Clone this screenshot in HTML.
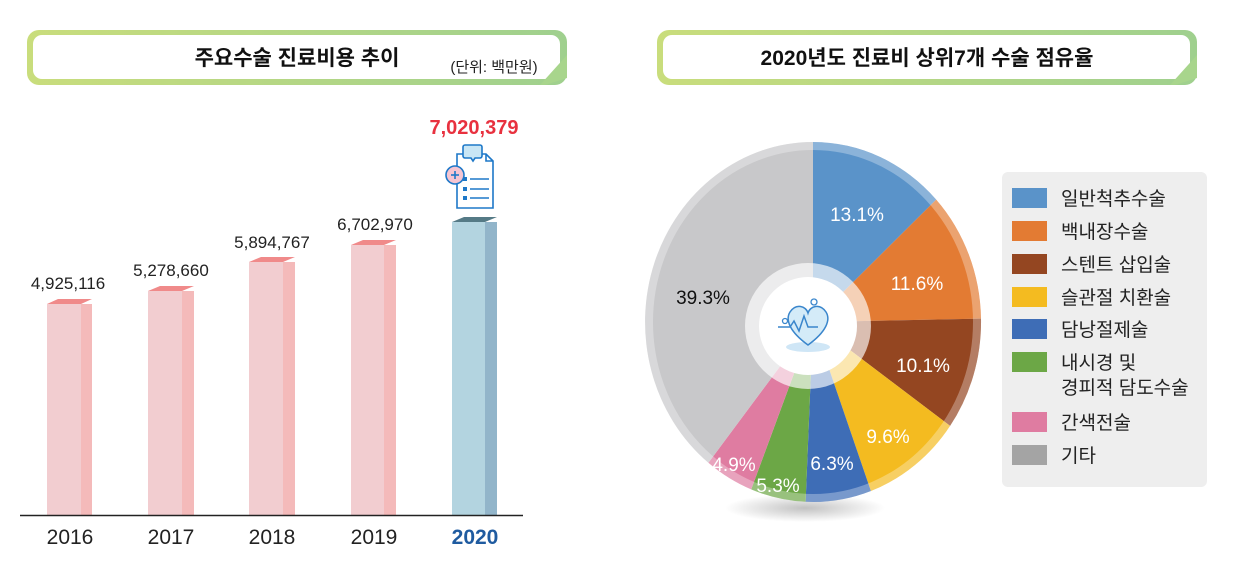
<!DOCTYPE html>
<html><head><meta charset="utf-8"><style>
body{margin:0;background:#fff;width:1246px;height:571px;overflow:hidden;font-family:"Liberation Sans","Noto Sans CJK KR",sans-serif}
</style></head><body>
<svg width="1246" height="571" viewBox="0 0 1246 571" xmlns="http://www.w3.org/2000/svg" font-family="Liberation Sans, Noto Sans CJK KR, sans-serif">
<defs>
<linearGradient id="g1" x1="0" x2="1" y1="0" y2="0"><stop offset="0" stop-color="#c9dd7c"/><stop offset="1" stop-color="#9fd08e"/></linearGradient>
<radialGradient id="sh" cx="0.5" cy="0.5" r="0.5"><stop offset="0" stop-color="#999" stop-opacity="0.6"/><stop offset="1" stop-color="#999" stop-opacity="0"/></radialGradient>
</defs>
<rect x="27" y="30" width="540" height="55" rx="12" fill="url(#g1)"/>
<rect x="33" y="35" width="527" height="44" rx="9" fill="#fff"/>
<polygon points="567,55 567,78 545,85 540,85" fill="#a8d58c"/>
<text x="297" y="65" text-anchor="middle" font-size="21" font-weight="bold" fill="#111">주요수술 진료비용 추이</text>
<text x="494" y="72" text-anchor="middle" font-size="15" fill="#222">(단위: 백만원)</text>
<rect x="657" y="30" width="540" height="55" rx="12" fill="url(#g1)"/>
<rect x="663" y="35" width="527" height="44" rx="9" fill="#fff"/>
<polygon points="1197,55 1197,78 1175,85 1170,85" fill="#a8d58c"/>
<text x="927" y="65" text-anchor="middle" font-size="21" font-weight="bold" fill="#111">2020년도 진료비 상위7개 수술 점유율</text>
<g>
<rect x="47" y="304" width="34" height="211" fill="#f2cdd0"/><rect x="81" y="304" width="11" height="211" fill="#f4baba"/><polygon points="47,304 81,304 92,299 58,299" fill="#f08a8a"/>
<rect x="148" y="291" width="34" height="224" fill="#f2cdd0"/><rect x="182" y="291" width="12" height="224" fill="#f4baba"/><polygon points="148,291 182,291 194,286 160,286" fill="#f08a8a"/>
<rect x="249" y="262" width="34" height="253" fill="#f2cdd0"/><rect x="283" y="262" width="12" height="253" fill="#f4baba"/><polygon points="249,262 283,262 295,257 261,257" fill="#f08a8a"/>
<rect x="351" y="245" width="33" height="270" fill="#f2cdd0"/><rect x="384" y="245" width="12" height="270" fill="#f4baba"/><polygon points="351,245 384,245 396,240 363,240" fill="#f08a8a"/>
<rect x="452" y="222" width="33" height="293" fill="#b3d4e0"/><rect x="485" y="222" width="12" height="293" fill="#92b5ca"/><polygon points="452,222 485,222 497,217 464,217" fill="#557a86"/>
</g>
<line x1="20" y1="515.5" x2="523" y2="515.5" stroke="#222" stroke-width="1.5"/>
<g font-size="17" fill="#222" text-anchor="middle">
<text x="68" y="289">4,925,116</text>
<text x="171" y="276">5,278,660</text>
<text x="272" y="248">5,894,767</text>
<text x="375" y="230">6,702,970</text>
</g>
<text x="474" y="134" text-anchor="middle" font-size="20" font-weight="bold" fill="#e8313f">7,020,379</text>
<g font-size="21" fill="#222" text-anchor="middle">
<text x="70" y="544">2016</text><text x="171" y="544">2017</text><text x="272" y="544">2018</text><text x="374" y="544">2019</text>
<text x="475" y="544" fill="#1f5ba0" font-weight="bold">2020</text>
</g>
<!-- doc icon -->
<g stroke="#1e78c8" stroke-width="1.6">
<path d="M457,154 h29 l7,7 v47 h-36z" fill="#fff"/>
<polyline points="486,154 486,161 493,161" fill="none"/>
<path d="M465,145 h15 a2,2 0 0 1 2,2 v9 a2,2 0 0 1 -2,2 h-5 l-2,3 l-2,-3 h-6 a2,2 0 0 1 -2,-2 v-9 a2,2 0 0 1 2,-2z" fill="#c9e6f5"/>
<circle cx="455" cy="175" r="9" fill="#f5c5d2"/>
<line x1="451" y1="175" x2="459" y2="175"/><line x1="455" y1="171" x2="455" y2="179"/>
<line x1="470" y1="179" x2="489" y2="179"/><line x1="470" y1="189" x2="489" y2="189"/><line x1="470" y1="198" x2="489" y2="198"/>
</g>
<rect x="463" y="177" width="4" height="4" fill="#1e78c8"/>
<rect x="463" y="187" width="4" height="4" fill="#1e78c8"/><rect x="463" y="196" width="4" height="4" fill="#1e78c8"/>
<ellipse cx="805" cy="508" rx="80" ry="14" fill="url(#sh)"/>
<g>
<path d="M813,322 L813,142 A168,180 0 0 1 936.2,199.6Z" fill="#5a93c9"/>
<path d="M813,322 L936.2,199.6 A168,180 0 0 1 981,318.6Z" fill="#e37b33"/>
<path d="M813,322 L981,318.6 A168,180 0 0 1 950.1,425.9Z" fill="#944621"/>
<path d="M813,322 L950.1,425.9 A168,180 0 0 1 870.9,491Z" fill="#f4bb20"/>
<path d="M813,322 L870.9,491 A168,180 0 0 1 805.6,501.8Z" fill="#3e6db6"/>
<path d="M813,322 L805.6,501.8 A168,180 0 0 1 751.2,489.4Z" fill="#6ca746"/>
<path d="M813,322 L751.2,489.4 A168,180 0 0 1 708.4,462.8Z" fill="#df7ca1"/>
<path d="M813,322 L708.4,462.8 A168,180 0 0 1 813,142Z" fill="#c8c8ca"/>
</g>
<ellipse cx="813" cy="322" rx="164" ry="176" fill="none" stroke="#fff" stroke-opacity="0.3" stroke-width="8"/>
<circle cx="808" cy="326" r="63" fill="#fff" fill-opacity="0.65"/>
<circle cx="808" cy="326" r="49" fill="#fff"/>
<ellipse cx="808" cy="347" rx="22" ry="5" fill="#cfe6f6"/>
<path d="M808,345 C790,332 785,320 790,312 C796,303 806,306 808,313 C810,306 820,303 826,312 C831,320 826,332 808,345Z" fill="#d4ebf8" stroke="#3a86cc" stroke-width="1.5"/>
<polyline points="778,327 790,327 794,321 799,331 804,316 808,327 818,327" fill="none" stroke="#3a86cc" stroke-width="1.5"/>
<circle cx="814" cy="302" r="3" fill="none" stroke="#3a86cc" stroke-width="1.3"/>
<circle cx="785" cy="321" r="2.5" fill="none" stroke="#3a86cc" stroke-width="1.3"/>
<g font-size="19" fill="#fff" text-anchor="middle">
<text x="857" y="221">13.1%</text>
<text x="917" y="290">11.6%</text>
<text x="923" y="372">10.1%</text>
<text x="888" y="443">9.6%</text>
<text x="832" y="470">6.3%</text>
<text x="778" y="492">5.3%</text>
<text x="734" y="471">4.9%</text>
<text x="703" y="304" fill="#111">39.3%</text>
</g>
<rect x="1002" y="172" width="205" height="315" rx="6" fill="#eeeeee"/>
<g>
<rect x="1012" y="188" width="35" height="20" fill="#5a93c9"/>
<rect x="1012" y="221" width="35" height="20" fill="#e37b33"/>
<rect x="1012" y="254" width="35" height="20" fill="#944621"/>
<rect x="1012" y="287" width="35" height="20" fill="#f4bb20"/>
<rect x="1012" y="319" width="35" height="20" fill="#3e6db6"/>
<rect x="1012" y="352" width="35" height="20" fill="#6ca746"/>
<rect x="1012" y="412" width="35" height="20" fill="#df7ca1"/>
<rect x="1012" y="445" width="35" height="20" fill="#a4a4a4"/>
</g>
<g font-size="19" fill="#222">
<text x="1061" y="205">일반척추수술</text>
<text x="1061" y="238">백내장수술</text>
<text x="1061" y="271">스텐트 삽입술</text>
<text x="1061" y="304">슬관절 치환술</text>
<text x="1061" y="336">담낭절제술</text>
<text x="1061" y="369">내시경 및</text>
<text x="1061" y="394">경피적 담도수술</text>
<text x="1061" y="429">간색전술</text>
<text x="1061" y="462">기타</text>
</g>
</svg>
</body></html>
